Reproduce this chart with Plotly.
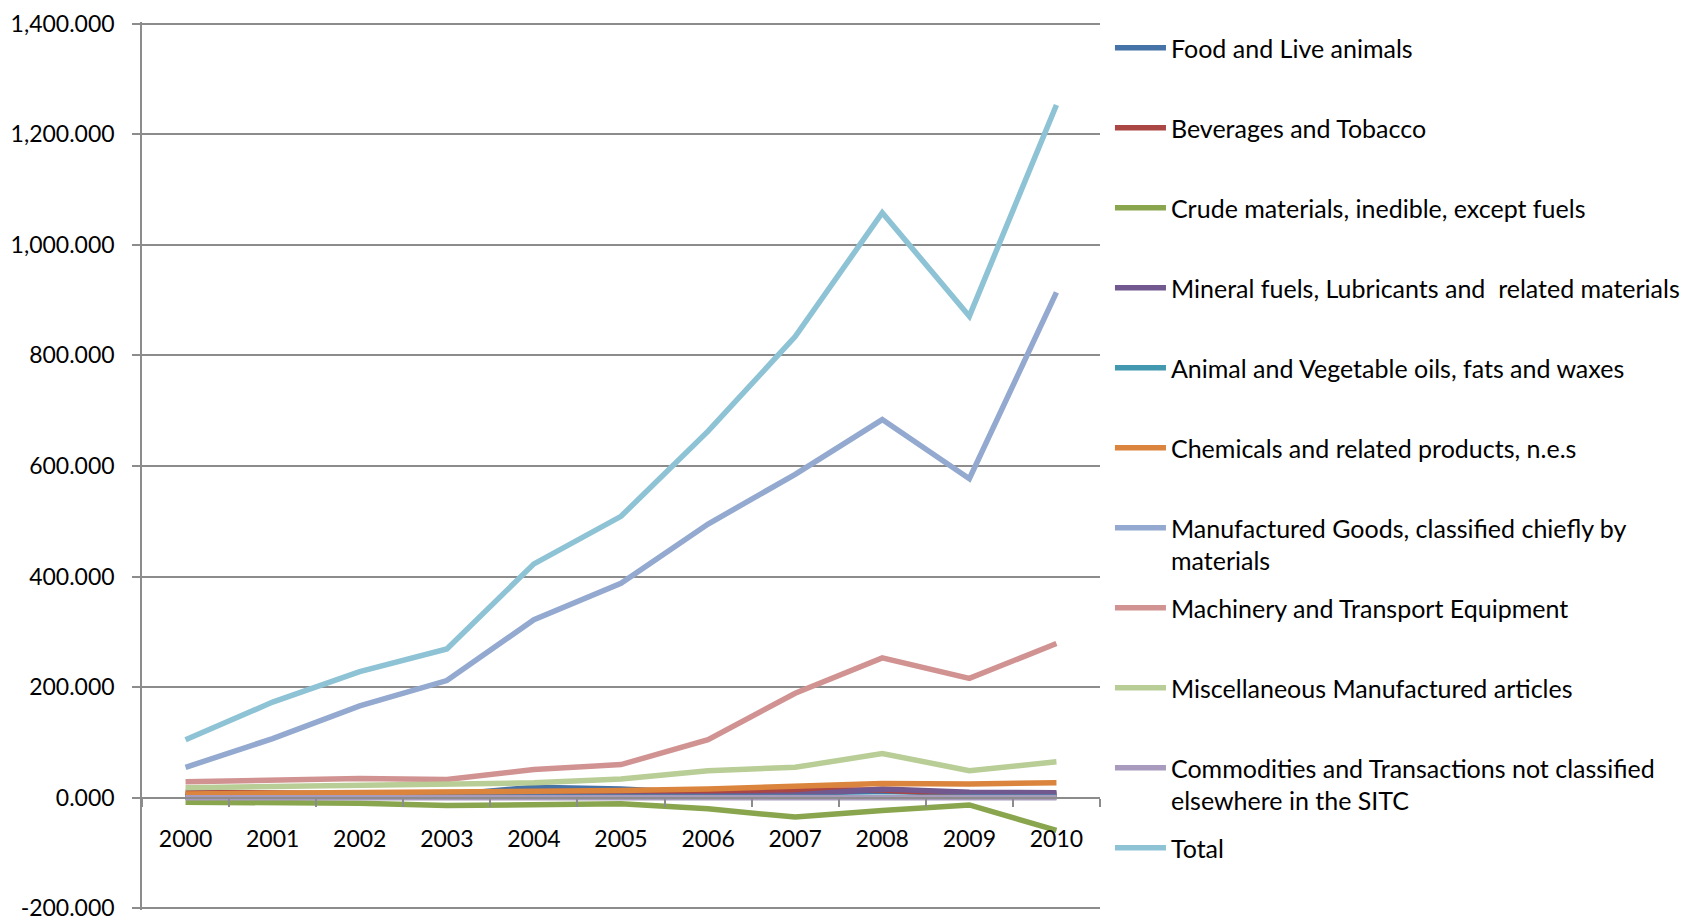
import plotly.graph_objects as go

years = ["2000", "2001", "2002", "2003", "2004", "2005", "2006", "2007", "2008", "2009", "2010"]

food = [5, 5, 4, 5, 19, 16, 8, 8, 12, 8, 7]
beverages = [10, 8, 6, 6, 7, 8, 10, 14, 14, 5, 4]
crude = [-8, -8, -10, -14, -13, -11, -20, -35, -23, -13, -59]
mineral = [2, 2, 2, 2, 2, 3, 3, 5, 16, 10, 9]
animal = [1, 1, 1, 1, 1, 1, 1, 1, 1, 1, 1]
chemicals = [7, 8, 9, 10, 11, 13, 16, 21, 26, 25, 27]
manufactured = [55, 107, 166, 212, 322, 388, 495, 585, 684, 577, 914]
machinery = [29, 31, 35, 33, 51, 60, 105, 189, 253, 216, 279]
misc = [18, 20, 22, 24, 27, 34, 49, 55, 80, 49, 65]
commodities = [0, 0, 0, 0, 0, 0, 0, 0, 0, 0, 0]
total = [105, 173, 228, 269, 423, 509, 663, 834, 1058, 871, 1253]

y_ticks = [-200, 0, 200, 400, 600, 800, 1000, 1200, 1400]
y_tick_labels = ["-200.000", "0.000", "200.000", "400.000", "600.000",
                 "800.000", "1,000.000", "1,200.000", "1,400.000"]

names = [
    "Food and Live animals",
    "Beverages and Tobacco",
    "Crude materials, inedible, except fuels",
    "Mineral fuels, Lubricants and  related materials",
    "Animal and Vegetable oils, fats and waxes",
    "Chemicals and related products, n.e.s",
    "Manufactured Goods, classified chiefly by<br>materials",
    "Machinery and Transport Equipment",
    "Miscellaneous Manufactured articles",
    "Commodities and Transactions not classified<br>elsewhere in the SITC",
    "Total",
]
series = [food, beverages, crude, mineral, animal, chemicals, manufactured,
          machinery, misc, commodities, total]
colors = ["#4572A7", "#AA4643", "#89A54E", "#71588F", "#4198AF", "#DB843D",
          "#93A9CF", "#D19392", "#B9CD96", "#A99BBD", "#8DC3D5"]

Y_MIN, Y_MAX = -203, 1403  # slight padding so edge gridlines get drawn

FONT = "Lato"
fig = go.Figure()
for i, (nm, vals, col) in enumerate(zip(names, series, colors)):
    label = nm if "<br>" in nm else nm + "<br> "
    fig.add_trace(go.Scatter(
        x=years, y=vals, mode="lines", name=label,
        line=dict(color=col, width=5.5), legendgroup=f"g{i}",
    ))

grid = "#8C8C8C"
# the page body has an 8px default margin, so the figure is offset by 8px
fig.update_layout(
    width=1694, height=913,
    margin=dict(l=134, r=602, t=14, b=11, autoexpand=False),
    paper_bgcolor="white", plot_bgcolor="white",
    font=dict(family=FONT, size=23, color="black"),
    showlegend=True,
    legend=dict(
        x=1.0104, y=0.9966, xanchor="left", yanchor="top",
        font=dict(family=FONT, size=25, color="black"),
        tracegroupgap=12, valign="top", itemwidth=51,
        bgcolor="rgba(0,0,0,0)",
    ),
    xaxis=dict(
        type="category", range=[-0.5, 10.5],
        anchor="free", position=(0 - Y_MIN) / (Y_MAX - Y_MIN),
        showline=True, linecolor=grid, linewidth=1.5,
        ticks="outside", tickson="boundaries", ticklen=8, tickcolor=grid, tickwidth=1.5,
        showgrid=False, ticklabelstandoff=21,
        tickfont=dict(family=FONT, size=23, color="black"),
    ),
    yaxis=dict(
        range=[Y_MIN, Y_MAX], tickmode="array", tickvals=y_ticks, ticktext=y_tick_labels,
        showline=True, linecolor=grid, linewidth=1.5,
        ticks="outside", ticklen=8, tickcolor=grid, tickwidth=1.5,
        showgrid=True, gridcolor=grid, gridwidth=1.5,
        zeroline=False, ticklabelstandoff=13, ticklabeloverflow="allow",
        tickfont=dict(family=FONT, size=23, color="black"),
    ),
)

fig.write_html("out.html")
